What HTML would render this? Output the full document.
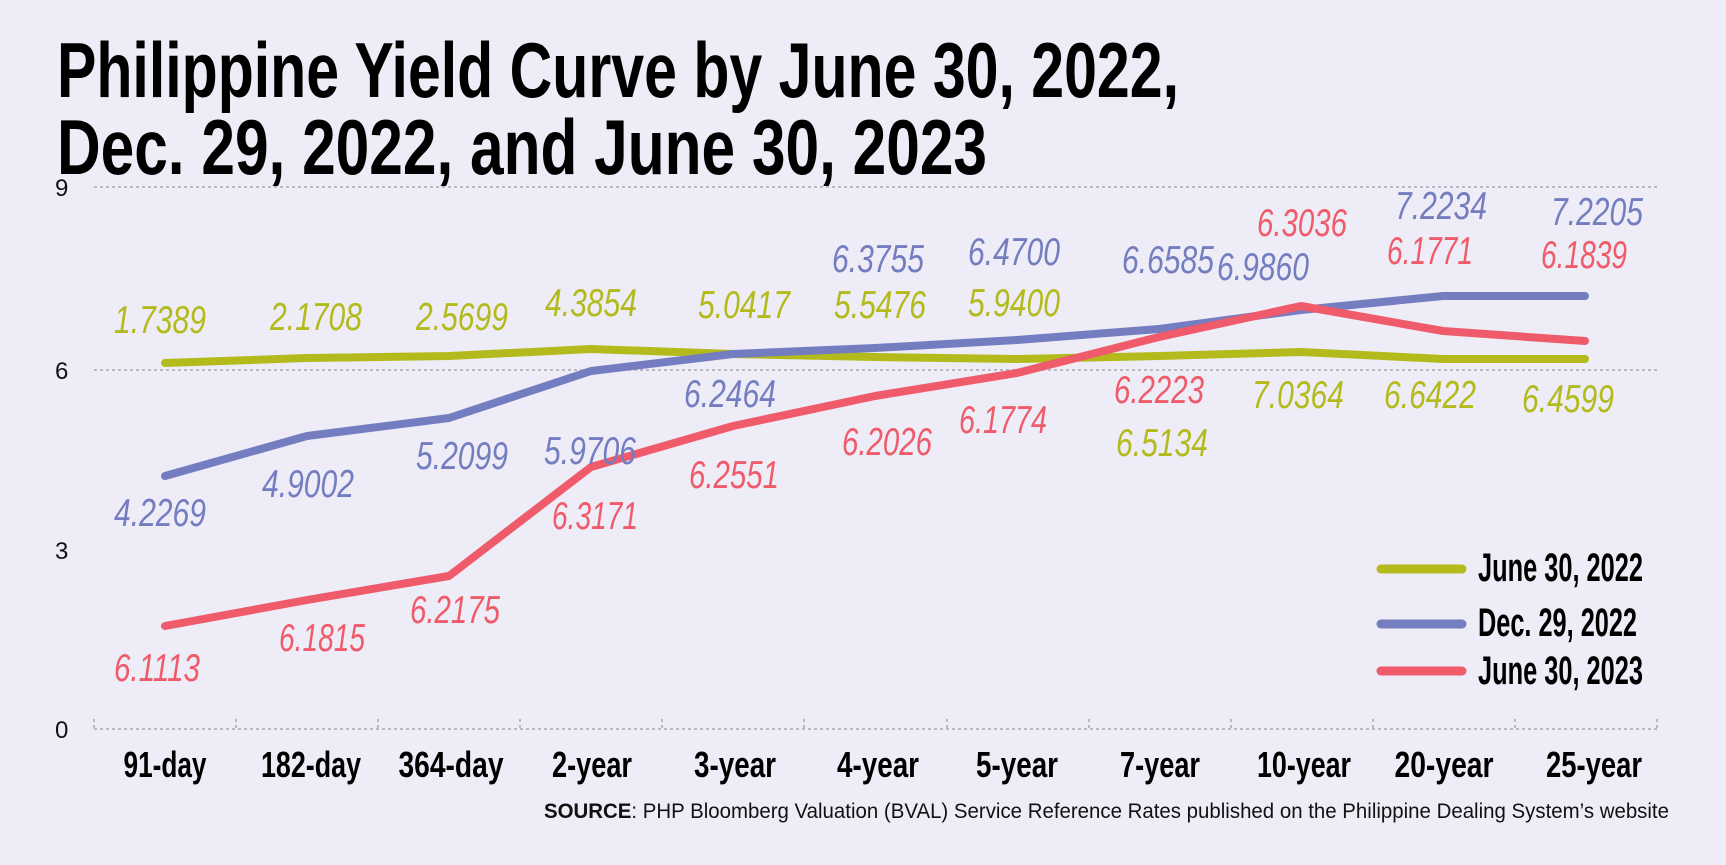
<!DOCTYPE html>
<html><head><meta charset="utf-8"><style>
html,body{margin:0;padding:0;background:#eeecf6;}
svg{display:block;}
.t{font-family:"Liberation Sans Narrow","Liberation Sans",sans-serif;font-weight:bold;fill:#000;}
.v{font-family:"Liberation Sans Narrow","Liberation Sans",sans-serif;font-style:italic;font-size:39px;text-anchor:middle;}
.g{fill:#b3bb1c}.b{fill:#737dc0}.r{fill:#ef5b6a}
.x{font-family:"Liberation Sans Narrow","Liberation Sans",sans-serif;font-weight:bold;font-size:36px;text-anchor:middle;}
.y{font-family:"Liberation Sans",sans-serif;font-size:24px;fill:#111;}
</style></head><body>
<svg width="1726" height="865" viewBox="0 0 1726 865" xmlns="http://www.w3.org/2000/svg">
<rect width="1726" height="865" fill="#eeecf6"/>
<text class="t" x="57" y="97" font-size="78" textLength="1122" lengthAdjust="spacingAndGlyphs">Philippine Yield Curve by June 30, 2022,</text>
<text class="t" x="57" y="174" font-size="78" textLength="930" lengthAdjust="spacingAndGlyphs">Dec. 29, 2022, and June 30, 2023</text>
<g stroke="#a9a6b4" stroke-width="1.5" stroke-dasharray="3,3">
<line x1="94" y1="187" x2="1657" y2="187"/>
<line x1="94" y1="370" x2="1657" y2="370"/>
<line x1="94" y1="729" x2="1657" y2="729"/>
<line x1="94" y1="719" x2="94" y2="729"/><line x1="236" y1="719" x2="236" y2="729"/><line x1="378" y1="719" x2="378" y2="729"/><line x1="520" y1="719" x2="520" y2="729"/><line x1="662" y1="719" x2="662" y2="729"/><line x1="804" y1="719" x2="804" y2="729"/><line x1="947" y1="719" x2="947" y2="729"/><line x1="1089" y1="719" x2="1089" y2="729"/><line x1="1231" y1="719" x2="1231" y2="729"/><line x1="1373" y1="719" x2="1373" y2="729"/><line x1="1515" y1="719" x2="1515" y2="729"/><line x1="1657" y1="719" x2="1657" y2="729"/>
</g>
<text class="y" x="55" y="196">9</text>
<text class="y" x="55" y="379">6</text>
<text class="y" x="55" y="559">3</text>
<text class="y" x="55" y="738">0</text>
<g fill="none" stroke-width="8" stroke-linecap="round" stroke-linejoin="round">
<polyline stroke="#b3bb1c" points="165,363 307,358 449,356 591,349 733,354 875,357 1017,359 1159,356 1301,352 1443,359 1585,359"/>
<polyline stroke="#737dc0" points="165,476 307,436 449,418 591,371 733,354 875,348 1017,340 1159,329 1301,310 1443,296 1585,296"/>
<polyline stroke="#ef5b6a" points="165,626 307,600 449,576 591,467 733,426 875,396 1017,373 1159,337 1301,306 1443,331 1585,341"/>
</g>
<g class="v">
<text class="g" x="160" y="333" textLength="92" lengthAdjust="spacingAndGlyphs">1.7389</text><text class="g" x="316" y="330" textLength="92" lengthAdjust="spacingAndGlyphs">2.1708</text><text class="g" x="462" y="330" textLength="92" lengthAdjust="spacingAndGlyphs">2.5699</text><text class="g" x="591" y="316" textLength="92" lengthAdjust="spacingAndGlyphs">4.3854</text><text class="g" x="744" y="318" textLength="92" lengthAdjust="spacingAndGlyphs">5.0417</text><text class="g" x="880" y="318" textLength="92" lengthAdjust="spacingAndGlyphs">5.5476</text><text class="g" x="1014" y="316" textLength="92" lengthAdjust="spacingAndGlyphs">5.9400</text><text class="g" x="1162" y="456" textLength="92" lengthAdjust="spacingAndGlyphs">6.5134</text><text class="g" x="1298" y="408" textLength="92" lengthAdjust="spacingAndGlyphs">7.0364</text><text class="g" x="1430" y="408" textLength="92" lengthAdjust="spacingAndGlyphs">6.6422</text><text class="g" x="1568" y="412" textLength="92" lengthAdjust="spacingAndGlyphs">6.4599</text>
<text class="b" x="160" y="526" textLength="92" lengthAdjust="spacingAndGlyphs">4.2269</text><text class="b" x="308" y="497" textLength="92" lengthAdjust="spacingAndGlyphs">4.9002</text><text class="b" x="462" y="469" textLength="92" lengthAdjust="spacingAndGlyphs">5.2099</text><text class="b" x="590" y="464" textLength="92" lengthAdjust="spacingAndGlyphs">5.9706</text><text class="b" x="730" y="407" textLength="92" lengthAdjust="spacingAndGlyphs">6.2464</text><text class="b" x="878" y="272" textLength="92" lengthAdjust="spacingAndGlyphs">6.3755</text><text class="b" x="1014" y="265" textLength="92" lengthAdjust="spacingAndGlyphs">6.4700</text><text class="b" x="1168" y="273" textLength="92" lengthAdjust="spacingAndGlyphs">6.6585</text><text class="b" x="1263" y="280" textLength="92" lengthAdjust="spacingAndGlyphs">6.9860</text><text class="b" x="1441" y="219" textLength="92" lengthAdjust="spacingAndGlyphs">7.2234</text><text class="b" x="1597" y="225" textLength="92" lengthAdjust="spacingAndGlyphs">7.2205</text>
<text class="r" x="157" y="681" textLength="86" lengthAdjust="spacingAndGlyphs">6.1113</text><text class="r" x="322" y="651" textLength="86" lengthAdjust="spacingAndGlyphs">6.1815</text><text class="r" x="455" y="623" textLength="90" lengthAdjust="spacingAndGlyphs">6.2175</text><text class="r" x="595" y="529" textLength="86" lengthAdjust="spacingAndGlyphs">6.3171</text><text class="r" x="734" y="488" textLength="90" lengthAdjust="spacingAndGlyphs">6.2551</text><text class="r" x="887" y="455" textLength="90" lengthAdjust="spacingAndGlyphs">6.2026</text><text class="r" x="1003" y="433" textLength="88" lengthAdjust="spacingAndGlyphs">6.1774</text><text class="r" x="1159" y="403" textLength="90" lengthAdjust="spacingAndGlyphs">6.2223</text><text class="r" x="1302" y="236" textLength="90" lengthAdjust="spacingAndGlyphs">6.3036</text><text class="r" x="1430" y="264" textLength="86" lengthAdjust="spacingAndGlyphs">6.1771</text><text class="r" x="1584" y="268" textLength="86" lengthAdjust="spacingAndGlyphs">6.1839</text>
</g>
<g class="x">
<text x="165" y="777" textLength="83" lengthAdjust="spacingAndGlyphs">91-day</text><text x="311" y="777" textLength="100" lengthAdjust="spacingAndGlyphs">182-day</text><text x="451" y="777" textLength="105" lengthAdjust="spacingAndGlyphs">364-day</text><text x="592" y="777" textLength="80" lengthAdjust="spacingAndGlyphs">2-year</text><text x="735" y="777" textLength="82" lengthAdjust="spacingAndGlyphs">3-year</text><text x="878" y="777" textLength="82" lengthAdjust="spacingAndGlyphs">4-year</text><text x="1017" y="777" textLength="82" lengthAdjust="spacingAndGlyphs">5-year</text><text x="1160" y="777" textLength="80" lengthAdjust="spacingAndGlyphs">7-year</text><text x="1304" y="777" textLength="94" lengthAdjust="spacingAndGlyphs">10-year</text><text x="1444" y="777" textLength="99" lengthAdjust="spacingAndGlyphs">20-year</text><text x="1594" y="777" textLength="96" lengthAdjust="spacingAndGlyphs">25-year</text>
</g>
<text x="544" y="818" font-family="Liberation Sans Narrow,Liberation Sans,sans-serif" font-size="21" fill="#111" textLength="1125" lengthAdjust="spacingAndGlyphs"><tspan font-weight="bold">SOURCE</tspan>: PHP Bloomberg Valuation (BVAL) Service Reference Rates published on the Philippine Dealing System’s website</text>
<g stroke-width="9" stroke-linecap="round">
<line x1="1381" y1="569" x2="1462" y2="569" stroke="#b3bb1c"/>
<line x1="1381" y1="624" x2="1462" y2="624" stroke="#737dc0"/>
<line x1="1381" y1="671" x2="1462" y2="671" stroke="#ef5b6a"/>
</g>
<g class="t" font-size="40">
<text x="1478" y="581" textLength="165" lengthAdjust="spacingAndGlyphs">June 30, 2022</text>
<text x="1478" y="636" textLength="159" lengthAdjust="spacingAndGlyphs">Dec. 29, 2022</text>
<text x="1478" y="684" textLength="165" lengthAdjust="spacingAndGlyphs">June 30, 2023</text>
</g>
</svg>
</body></html>
